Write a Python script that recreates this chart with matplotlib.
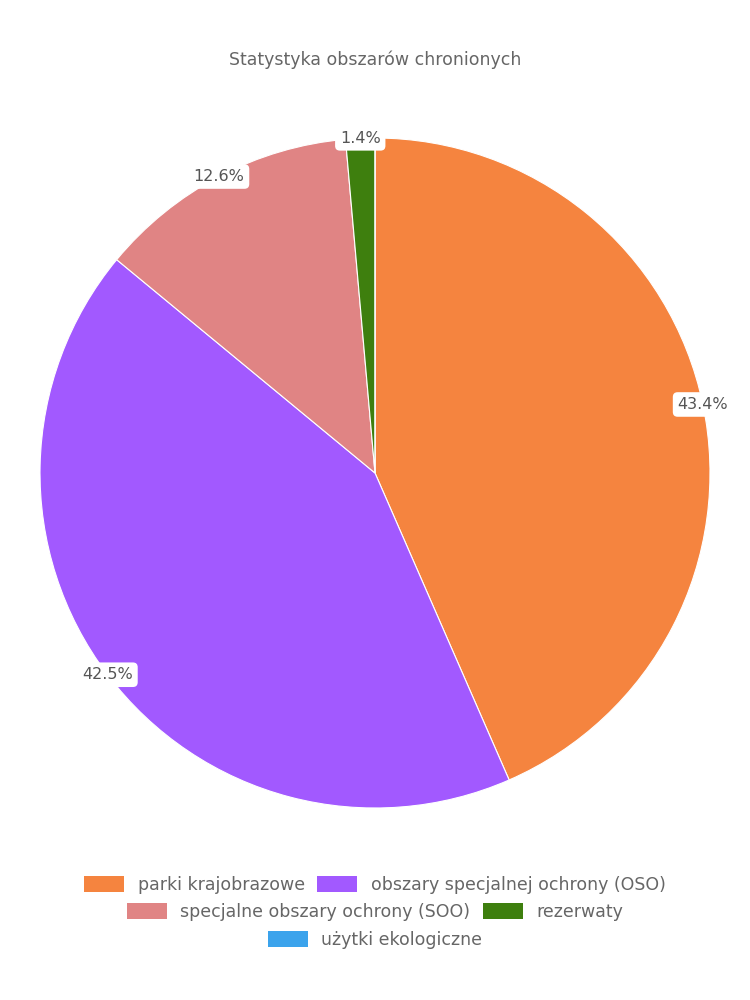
import matplotlib.pyplot as plt
from matplotlib.patches import Patch
import numpy as np

# Data
categories = [
    "parki krajobrazowe",
    "obszary specjalnej ochrony (OSO)",
    "specjalne obszary ochrony (SOO)",
    "rezerwaty",
    "użytki ekologiczne",
]
shares = [43.4, 42.5, 12.6, 1.4, 0.0]
colors = ['#F5843F', '#A259FF', '#E08484', '#3E7F0E', '#3BA3EC']
legend_rows = [[0, 1], [2, 3], [4]]

plt.rcParams['font.family'] = ['DejaVu Sans']
text_color = '#666666'

fig = plt.figure(figsize=(7.5, 10), dpi=100)
ax = fig.add_axes([40 / 750, 192 / 1000, 670 / 750, 670 / 1000])

wedges, _ = ax.pie(shares, colors=colors, startangle=90, counterclock=False,
                   wedgeprops=dict(edgecolor='white', linewidth=0.8), radius=1.0)
ax.set_xlim(-1, 1)
ax.set_ylim(-1, 1)
ax.set_aspect('equal')

# Percentage labels on the rim
cum = 0.0
total = sum(shares)
for val in shares:
    if val > 0:
        mid = 90 - (cum + val / 2) / total * 360
        x = np.cos(np.radians(mid))
        y = np.sin(np.radians(mid))
        ax.text(x, y, f"{val:.1f}%", ha='center', va='center', fontsize=11.5,
                color='#555555',
                bbox=dict(boxstyle='round,pad=0.3', fc='white', ec='none'))
    cum += val

fig.text(0.5, 0.94, "Statystyka obszarów chronionych", ha='center', va='center',
         fontsize=12.5, color=text_color)

# Legend rows, centered
row_y = [0.115, 0.088, 0.06]
for row, y in zip(legend_rows, row_y):
    handles = [Patch(facecolor=colors[i], edgecolor='none') for i in row]
    labels = [categories[i] for i in row]
    fig.legend(handles, labels, loc='center', bbox_to_anchor=(0.5, y),
               ncol=len(row), frameon=False, fontsize=12.5, labelcolor=text_color,
               handlelength=2.3, handleheight=1.0, handletextpad=0.8,
               columnspacing=0.7)

fig.savefig('out.png', dpi=100)
